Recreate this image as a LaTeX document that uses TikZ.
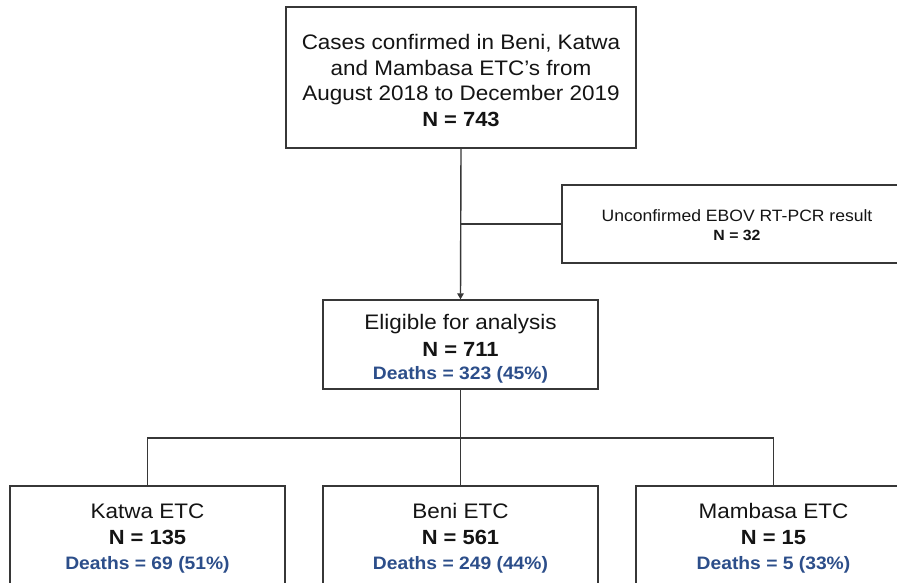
\documentclass[tikz,border=0pt]{standalone}
\usepackage{fontspec}
\setmainfont[FakeStretch=1.07]{Liberation Sans}
\usetikzlibrary{arrows.meta}
\definecolor{boxline}{RGB}{55,55,55}
\definecolor{deathblue}{RGB}{44,78,138}
\definecolor{txt}{RGB}{20,20,20}
\newcommand{\nline}[1]{{\fontsize{20.5}{25.7}\selectfont\bfseries #1}}
\newcommand{\dline}[1]{{\fontsize{18}{25.7}\selectfont\bfseries\color{deathblue}#1}}
\begin{document}
\begin{tikzpicture}[x=1pt,y=-1pt,
  box/.style={draw=boxline,line width=1.4pt,fill=white,align=center,inner sep=0pt,
    text=txt,font=\fontsize{21}{25.7}\selectfont},
  bigbox/.style={box,minimum width=350,minimum height=141},
  sidebox/.style={box,minimum width=350,minimum height=78,font=\fontsize{16.4}{17.5}\selectfont},
  midbox/.style={box,minimum width=275,minimum height=89},
  leafbox/.style={box,minimum width=275,minimum height=110},
  conn/.style={draw=boxline,line width=1.4pt},
  arrowconn/.style={conn,-{Triangle[width=6.5pt,length=6pt]}}
]
\useasboundingbox (0,0) rectangle (897,583);
\clip (0,0) rectangle (897,583);
\fill[white] (0,0) rectangle (897,583);

\node[bigbox] (top) at (461,77.5) {\rule{0pt}{21pt}Cases confirmed in Beni, Katwa\\and Mambasa ETC’s from\\August 2018 to December 2019\\\nline{N = 743}};
\node[sidebox] (unc) at (737,224) {\rule{0pt}{14pt}Unconfirmed EBOV RT-PCR result\\[2pt]{\fontsize{14.8}{17.5}\selectfont\bfseries N = 32}};
\node[midbox] (elig) at (460.5,344.5) {\rule{0pt}{23.5pt}Eligible for analysis\\[1pt]\nline{N = 711}\\[-3pt]\dline{Deaths = 323 (45\%)}};

\node[leafbox] (katwa) at (147.5,541) {Katwa ETC\\\nline{N = 135}\\[-1pt]\dline{Deaths = 69 (51\%)}\rule[-9pt]{0pt}{9pt}};
\node[leafbox] (beni) at (460.5,541) {Beni ETC\\\nline{N = 561}\\[-1pt]\dline{Deaths = 249 (44\%)}\rule[-9pt]{0pt}{9pt}};
\node[leafbox] (mamb) at (773.5,541) {Mambasa ETC\\\nline{N = 15}\\[-1pt]\dline{Deaths = 5 (33\%)}\rule[-9pt]{0pt}{9pt}};

\draw[arrowconn] (top.south) -- (elig.north);
\draw[conn] (unc.west) -- (unc.west -| top.south);

\coordinate (bus) at (460.5,438);
\draw[conn] (elig.south) -- (beni.north);
\draw[conn] (katwa.north) -- (katwa.north |- bus) -- (mamb.north |- bus) -- (mamb.north);
\end{tikzpicture}
\end{document}
